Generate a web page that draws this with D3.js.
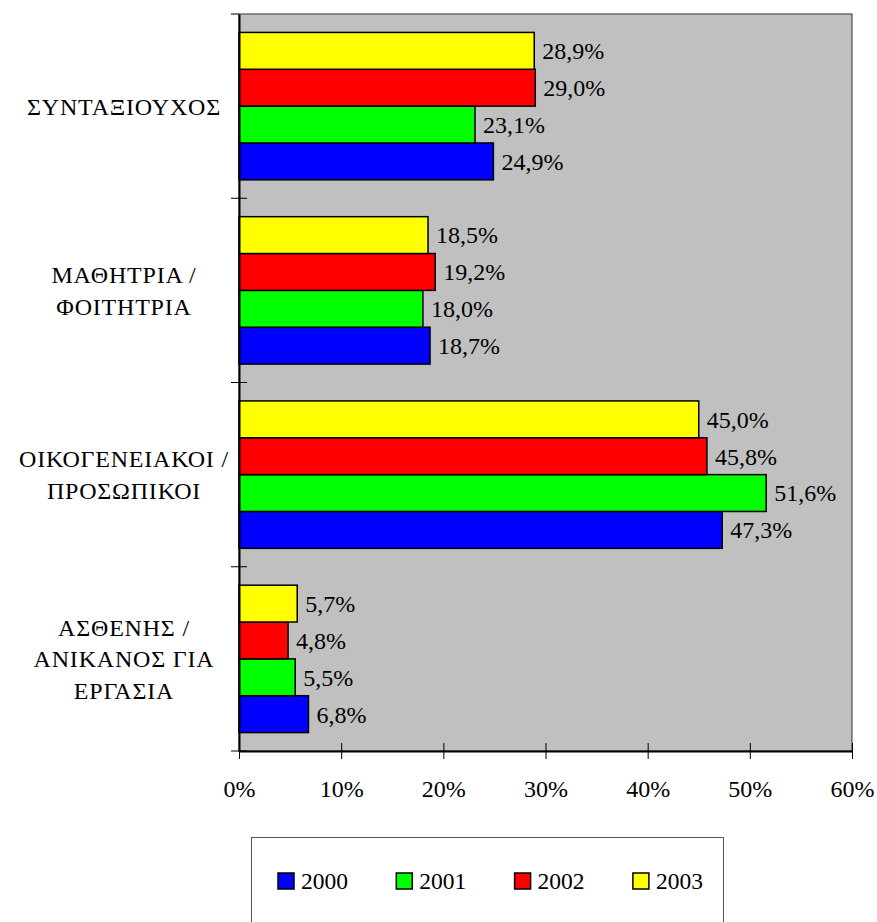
<!DOCTYPE html>
<html>
<head>
<meta charset="utf-8">
<script src="https://cdn.jsdelivr.net/npm/d3@7"></script>
<style>
  body { margin: 0; background: #fff; }
</style>
</head>
<body>
<svg id="chart" width="877" height="922"></svg>
<script>
// categories, top to bottom, with their wrapped label lines
const categories = ["ΣΥΝΤΑΞΙΟΥΧΟΣ", "ΜΑΘΗΤΡΙΑ / ΦΟΙΤΗΤΡΙΑ", "ΟΙΚΟΓΕΝΕΙΑΚΟΙ / ΠΡΟΣΩΠΙΚΟΙ", "ΑΣΘΕΝΗΣ / ΑΝΙΚΑΝΟΣ ΓΙΑ ΕΡΓΑΣΙΑ"];
const categoryLines = [
    ["ΣΥΝΤΑΞΙΟΥΧΟΣ"],
    ["ΜΑΘΗΤΡΙΑ /", "ΦΟΙΤΗΤΡΙΑ"],
    ["ΟΙΚΟΓΕΝΕΙΑΚΟΙ /", "ΠΡΟΣΩΠΙΚΟΙ"],
    ["ΑΣΘΕΝΗΣ /", "ΑΝΙΚΑΝΟΣ ΓΙΑ", "ΕΡΓΑΣΙΑ"]
];
const years = ["2000", "2001", "2002", "2003"];
const values2000 = [24.9, 18.7, 47.3, 6.8];
const values2001 = [23.1, 18.0, 51.6, 5.5];
const values2002 = [29.0, 19.2, 45.8, 4.8];
const values2003 = [28.9, 18.5, 45.0, 5.7];
const xTicks = [0, 10, 20, 30, 40, 50, 60];
const colors = ["#0000ff", "#00ff00", "#ff0000", "#ffff00"];

const seriesValues = [values2000, values2001, values2002, values2003];
const FONT = 'Liberation Serif, Tinos, Times New Roman, FreeSerif, serif';

const svg = d3.select('#chart')
    .attr('font-family', FONT)
    .attr('font-size', 24);

const plot = { left: 239, right: 852, top: 14, bottom: 751 };

let x = d3.scaleLinear().domain([0, 60]).range([plot.left, plot.right]);
let y = d3.scaleBand().domain(categories).range([plot.top, plot.bottom]).padding(0);
// 2003 on top of each group, 2000 at the bottom
let yInner = d3.scaleBand().domain(years.slice().reverse())
    .range([0, y.bandwidth()]).paddingInner(0).paddingOuter(0.5);
let color = d3.scaleOrdinal().domain(years).range(colors);

const fmt = v => d3.format(".1f")(v).replace(".", ",") + "%";

// plot area background
svg.append('rect')
    .attr('x', plot.left).attr('y', plot.top)
    .attr('width', plot.right - plot.left).attr('height', plot.bottom - plot.top)
    .attr('fill', '#c0c0c0')
    .attr('stroke', '#333').attr('stroke-width', 1);

// flatten bar data
let barData = [];
categories.forEach(function (c, i) {
    years.forEach(function (yr, j) {
        barData.push({ category: c, year: yr, value: seriesValues[j][i] });
    });
});

let groups = svg.append('g').selectAll('g.bar').data(barData).enter()
    .append('g').classed('bar', true)
    .attr('transform', d => 'translate(0,' + (y(d.category) + yInner(d.year)) + ')');

groups.append('rect')
    .attr('x', x(0))
    .attr('y', 0)
    .attr('width', d => x(d.value) - x(0))
    .attr('height', yInner.bandwidth())
    .attr('fill', d => color(d.year))
    .attr('stroke', '#000')
    .attr('stroke-width', 1.5);

groups.append('text')
    .attr('x', d => x(d.value) + 8)
    .attr('y', yInner.bandwidth() / 2)
    .attr('dy', '0.35em')
    .attr('fill', '#000')
    .text(d => fmt(d.value));

// x axis with ticks crossing the axis line
let xAxis = svg.append('g')
    .attr('transform', 'translate(0,' + plot.bottom + ')')
    .call(d3.axisBottom(x).tickValues(xTicks).tickFormat(d => d + '%').tickSizeOuter(0));
xAxis.attr('font-family', null).attr('font-size', null);
xAxis.select('.domain').attr('stroke', '#000').attr('stroke-width', 2);
xAxis.selectAll('.tick line').attr('y1', -8).attr('y2', 8).attr('stroke', '#000');
xAxis.selectAll('.tick text')
    .attr('y', 29).attr('dy', '0.71em')
    .attr('fill', '#000');

// y axis: line plus ticks at band boundaries
let yAxis = svg.append('g')
    .attr('transform', 'translate(' + plot.left + ',0)')
    .call(d3.axisLeft(y).tickSize(0).tickFormat(''));
yAxis.attr('font-family', null).attr('font-size', null);
yAxis.select('.domain').attr('stroke', '#000').attr('stroke-width', 2);
let boundaries = categories.map(c => y(c)).concat([y.range()[1]]);
yAxis.selectAll('line.boundary').data(boundaries).enter()
    .append('line').classed('boundary', true)
    .attr('x1', -8).attr('x2', d => d === plot.top ? 0 : 8)
    .attr('y1', d => d).attr('y2', d => d)
    .attr('stroke', '#000');

// category labels
let lineHeight = 31.5;
let labels = svg.append('g').selectAll('text.cat').data(categories).enter()
    .append('text').classed('cat', true)
    .attr('text-anchor', 'middle')
    .attr('letter-spacing', 0.8)
    .attr('fill', '#000');
labels.each(function (c, i) {
    let lines = categoryLines[i];
    let cy = y(c) + y.bandwidth() / 2;
    let startY = cy - (lines.length - 1) * lineHeight / 2;
    d3.select(this).selectAll('tspan').data(lines).enter()
        .append('tspan')
        .attr('x', 124)
        .attr('y', (d, k) => startY + k * lineHeight)
        .attr('dy', '0.35em')
        .text(d => d);
});

// legend
svg.append('rect')
    .attr('x', 251.5).attr('y', 837.5)
    .attr('width', 472).attr('height', 120)
    .attr('fill', '#fff').attr('stroke', '#555').attr('stroke-width', 1);

let legendX = d3.scaleBand().domain(years).range([278, 278 + 4 * 118.3]);
let legendItems = svg.append('g').selectAll('g.legend').data(years).enter()
    .append('g').classed('legend', true)
    .attr('transform', d => 'translate(' + legendX(d) + ',873)');
legendItems.append('rect')
    .attr('width', 16).attr('height', 16)
    .attr('fill', d => color(d))
    .attr('stroke', '#000').attr('stroke-width', 1.5);
legendItems.append('text')
    .attr('x', 23).attr('y', 8).attr('dy', '0.35em')
    .attr('font-size', 23.5)
    .attr('fill', '#000')
    .text(d => d);
</script>
</body>
</html>
